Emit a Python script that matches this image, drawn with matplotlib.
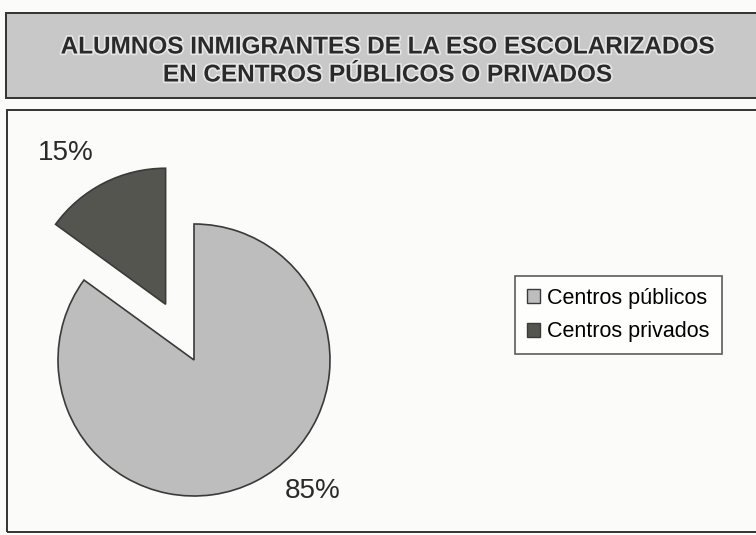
import numpy as np
import matplotlib as mpl
import matplotlib.pyplot as plt
from matplotlib.patches import Rectangle
import matplotlib.patheffects as pe

mpl.rcParams['font.family'] = ['Liberation Sans', 'DejaVu Sans']

# data
categories = ['Centros públicos', 'Centros privados']
shares = [85, 15]
colors = ['#bdbdbd', '#55554f']
title_lines = ['ALUMNOS INMIGRANTES DE LA ESO ESCOLARIZADOS',
               'EN CENTROS PÚBLICOS O PRIVADOS']

W, H = 756, 535
fig = plt.figure(figsize=(W / 100, H / 100), dpi=100)
fig.patch.set_facecolor('#fbfbfa')


def px_rect(x0, y0, x1, y1, **kw):
    # rectangle given in pixels from the top-left corner
    return Rectangle((x0 / W, 1 - y1 / H), (x1 - x0) / W, (y1 - y0) / H,
                     transform=fig.transFigure, **kw)


# title band
fig.patches.append(px_rect(6, 13, 760, 98, facecolor='#c8c8c8',
                           edgecolor='#333333', linewidth=1.4))
for i, line in enumerate(title_lines):
    fig.text(0.5 + 9 / W, 1 - (47 + i * 28) / H, line, ha='center', va='center',
             fontsize=17.5, fontweight='bold', color='#2a2a2a',
             path_effects=[pe.withStroke(linewidth=2.5, foreground='#e6e6e6')])

# chart frame
fig.patches.append(px_rect(7, 110, 762, 532, facecolor='none',
                           edgecolor='#333333', linewidth=1.4))

# pie, centred at (195, 360) px with radius 136 px
cx, cy, r = 194, 360, 136
half = 1.6 * r
ax = fig.add_axes([(cx - half) / W, (H - cy - half) / H, 2 * half / W, 2 * half / H])
wedges, _ = ax.pie(shares, colors=colors, startangle=90, counterclock=False,
                   explode=[0, 0.46], radius=1,
                   wedgeprops=dict(edgecolor='#3a3a3a', linewidth=1.2))
ax.set_xlim(-1.6, 1.6)
ax.set_ylim(-1.6, 1.6)
ax.axis('off')
for w in wedges:
    w.set_clip_on(False)

# percentage labels
ax.text(0.87, -0.96, f'{shares[0]}%', fontsize=20, color='#2a2a2a',
        ha='center', va='center')
ax.text(-0.94, 1.52, f'{shares[1]}%', fontsize=20, color='#2a2a2a',
        ha='center', va='center')

# legend
leg = fig.legend(wedges, categories, loc='center left',
                 bbox_to_anchor=(515 / W, 1 - 315 / H), fontsize=15.5,
                 frameon=True, fancybox=False, edgecolor='#333333',
                 handlelength=0.6, handleheight=0.6, handletextpad=0.35,
                 borderpad=0.55, labelspacing=0.6, borderaxespad=0)
leg.get_frame().set_linewidth(1.2)
leg.get_frame().set_facecolor('white')
for h in leg.legend_handles:
    h.set_linewidth(1.0)

fig.savefig('out.png', dpi=100)
